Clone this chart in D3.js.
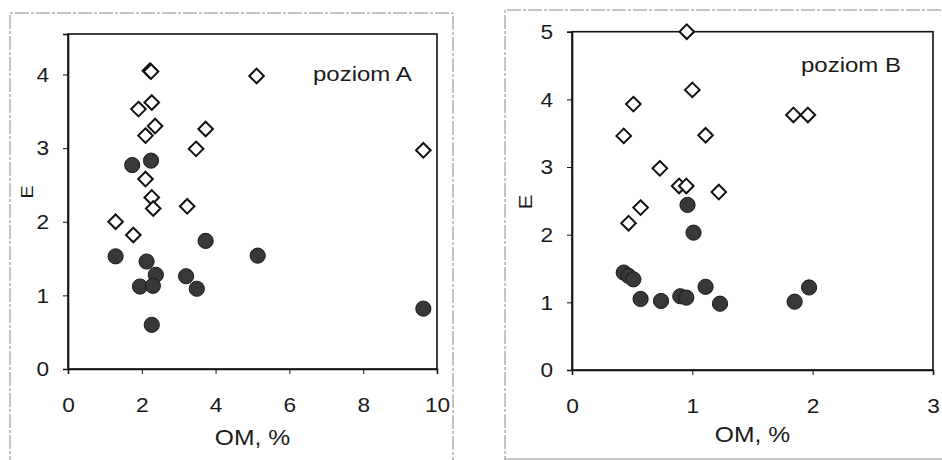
<!DOCTYPE html>
<html><head><meta charset="utf-8">
<script src="https://cdn.jsdelivr.net/npm/d3@7"></script>
<style>body{margin:0;background:#fff}svg{display:block;font-family:"Liberation Sans",Arial,sans-serif}</style>
</head><body>
<svg id="c" width="942" height="460"></svg>
<script>
// Panel A (poziom A)
const aDiamondX = [2.22, 2.25, 5.11, 1.91, 2.27, 2.36, 2.10, 3.73, 3.47, 9.63, 2.10, 2.27, 2.31, 3.23, 1.29, 1.77];
const aDiamondY = [4.05, 4.04, 3.98, 3.53, 3.62, 3.30, 3.17, 3.26, 2.99, 2.97, 2.58, 2.33, 2.18, 2.21, 2.00, 1.82];
const aCircleX = [1.74, 2.25, 3.73, 5.14, 1.29, 9.63, 2.27, 2.13, 2.38, 1.95, 2.30, 3.20, 3.49];
const aCircleY = [2.77, 2.83, 1.74, 1.54, 1.53, 0.82, 0.60, 1.46, 1.28, 1.12, 1.13, 1.26, 1.09];
// Panel B (poziom B)
const bDiamondX = [0.954, 1.00, 0.51, 0.43, 1.11, 1.84, 1.96, 0.73, 0.89, 0.95, 1.22, 0.57, 0.47];
const bDiamondY = [5.00, 4.14, 3.93, 3.46, 3.47, 3.77, 3.77, 2.98, 2.72, 2.72, 2.63, 2.40, 2.17];
const bCircleX = [0.96, 1.01, 0.43, 0.47, 0.51, 0.57, 0.74, 0.90, 0.95, 1.11, 1.23, 1.85, 1.97];
const bCircleY = [2.44, 2.03, 1.44, 1.39, 1.34, 1.05, 1.02, 1.09, 1.07, 1.23, 0.98, 1.01, 1.22];
const aXTicks = [0, 2, 4, 6, 8, 10];
const aYTicks = [0, 1, 2, 3, 4];
const bXTicks = [0, 1, 2, 3];
const bYTicks = [0, 1, 2, 3, 4, 5];

const svg = d3.select("#c");
const FONT = '"Liberation Sans",Arial,sans-serif';

// outer scanned frames
svg.append("path").attr("d","M10,470 L10,13 L453,13 L453,470")
  .attr("fill","none").attr("stroke","#888").attr("stroke-width",1).attr("stroke-dasharray","14,2,3,2");
svg.append("path").attr("d","M505,470 L505,10 L950,10")
  .attr("fill","none").attr("stroke","#888").attr("stroke-width",1).attr("stroke-dasharray","14,2,3,2");
svg.append("path").attr("d","M505,459 L950,459")
  .attr("fill","none").attr("stroke","#999").attr("stroke-width",1);

function stretchedText(g, x, y, sx, size, txt, anchor, rot) {
  return g.append("text")
    .attr("transform", `translate(${x},${y})${rot ? " rotate(" + rot + ")" : ""} scale(${sx},1)`)
    .attr("text-anchor", anchor || "start").attr("font-size", size)
    .attr("font-family", FONT).attr("fill", "#1a1a1a").text(txt);
}

function panel(cfg) {
  const x = d3.scaleLinear().domain(cfg.xDomain).range([cfg.left, cfg.right]);
  const y = d3.scaleLinear().domain(cfg.yDomain).range([cfg.bottom, cfg.top]);
  const g = svg.append("g");
  g.append("rect").attr("x", cfg.left).attr("y", cfg.top)
    .attr("width", cfg.right - cfg.left).attr("height", cfg.bottom - cfg.top)
    .attr("fill", "none").attr("stroke", "#111").attr("stroke-width", 1.6);
  const sx = 1.08;
  const xa = g.append("g").attr("transform", `translate(0,${cfg.bottom})`)
    .call(d3.axisBottom(x).tickValues(cfg.xTicks).tickSize(5).tickPadding(23).tickFormat(d3.format("d")));
  const ya = g.append("g").attr("transform", `translate(${cfg.left},0)`)
    .call(d3.axisLeft(y).tickValues(cfg.yTicks).tickSize(5).tickPadding(14).tickFormat(d3.format("d")));
  [xa, ya].forEach(a => {
    a.select(".domain").attr("stroke", "#111").attr("stroke-width", 1.6);
    a.selectAll(".tick line").attr("stroke", "#111");
    a.selectAll("text").attr("font-size", 21).attr("fill", "#1a1a1a").attr("font-family", FONT)
      .attr("transform", `scale(${sx},1)`);
  });
  ya.selectAll("text").attr("x", -19 / sx);
  // circles
  g.selectAll(".cir").data(cfg.cx.map((v, i) => [v, cfg.cy[i]])).enter().append("circle")
    .attr("cx", d => x(d[0])).attr("cy", d => y(d[1])).attr("r", 7.6)
    .attr("fill", "#383838").attr("stroke", "#1a1a1a").attr("stroke-width", 1);
  // diamonds
  g.selectAll(".dia").data(cfg.dx.map((v, i) => [v, cfg.dy[i]])).enter().append("path")
    .attr("d", "M0,-7.3L7.3,0L0,7.3L-7.3,0Z")
    .attr("transform", d => `translate(${x(d[0])},${y(d[1])})`)
    .attr("fill", "#fff").attr("stroke", "#111").attr("stroke-width", 2);
  stretchedText(g, cfg.labelX, cfg.labelY, 1.2, 20, cfg.label, "start");
  stretchedText(g, (cfg.left + cfg.right) / 2, cfg.omY, 1.12, 22, "OM, %", "middle");
  stretchedText(g, cfg.eX, cfg.eY, 1.15, cfg.eSize, "E", "middle", -90);
}

panel({xDomain:[0,10], yDomain:[0,4.55], left:68, right:437, top:34, bottom:369,
  xTicks:aXTicks, yTicks:aYTicks, cx:aCircleX, cy:aCircleY, dx:aDiamondX, dy:aDiamondY,
  label:"poziom A", labelX:313, labelY:81, omY:445, eX:33, eY:192, eSize:17});
panel({xDomain:[0,3], yDomain:[0,5], left:572, right:933, top:31.7, bottom:370,
  xTicks:bXTicks, yTicks:bYTicks, cx:bCircleX, cy:bCircleY, dx:bDiamondX, dy:bDiamondY,
  label:"poziom B", labelX:801, labelY:72, omY:442, eX:532, eY:202, eSize:19});
</script>
</body></html>
